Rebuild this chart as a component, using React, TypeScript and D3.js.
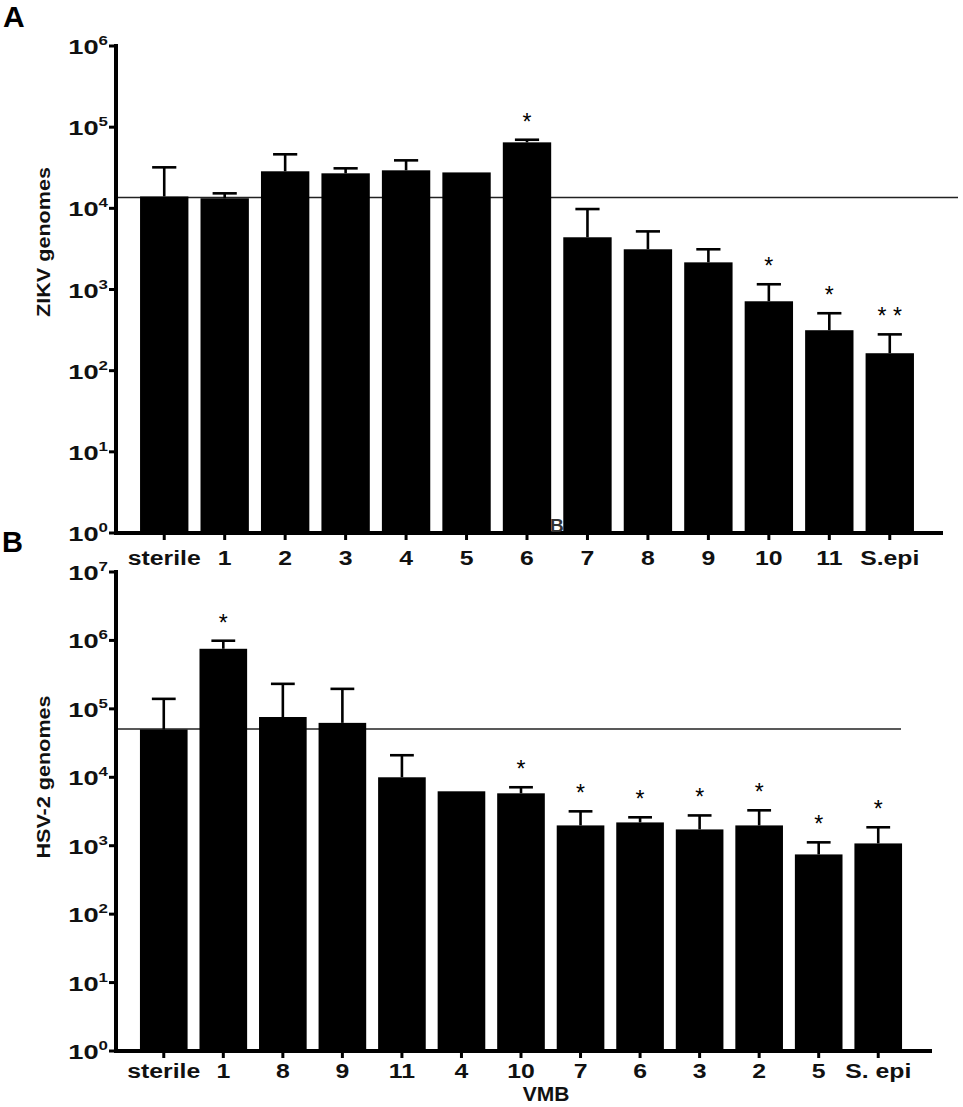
import * as d3 from "d3";

// Panel A: ZIKV
const zikvCategories = ["sterile", "1", "2", "3", "4", "5", "6", "7", "8", "9", "10", "11", "S.epi"];
const zikvMeans = [14000, 13300, 28600, 27000, 29400, 27700, 65000, 4400, 3130, 2160, 716, 315, 164];
const zikvErrTop = [32000, 15300, 46300, 31100, 39000, 27700, 70000, 9800, 5200, 3130, 1160, 510, 280];
const zikvStars = ["", "", "", "", "", "", "*", "", "", "", "*", "*", "* *"];
const zikvRef = 13600;
const zikvExponents = [0, 1, 2, 3, 4, 5, 6];

// Panel B: HSV-2
const hsvCategories = ["sterile", "1", "8", "9", "11", "4", "10", "7", "6", "3", "2", "5", "S. epi"];
const hsvMeans = [50000, 755000, 76000, 62400, 10000, 6240, 5830, 1980, 2190, 1730, 1980, 746, 1080];
const hsvErrTop = [140000, 990000, 232000, 196000, 21000, 6240, 7150, 3180, 2600, 2770, 3290, 1120, 1860];
const hsvStars = ["", "*", "", "", "", "", "*", "*", "*", "*", "*", "*", "*"];
const hsvRef = 50900;
const hsvExponents = [0, 1, 2, 3, 4, 5, 6, 7];

const FONT = "'Liberation Sans', Arial, sans-serif";

type PanelProps = {
  categories: string[];
  means: number[];
  errTop: number[];
  stars: string[];
  refValue: number;
  exponents: number[];
  yTop: number;
  yBottom: number;
  bandRange: [number, number];
  axisEnd: number;
  refEnd: number;
  title: string;
  titleY: number;
  titleStretch: number;
  labelGap: number;
};

function Panel(p: PanelProps) {
  const axisX = 116;
  const maxExp = d3.max(p.exponents)!;
  const y = d3.scaleLog().domain([1, Math.pow(10, maxExp)]).range([p.yBottom, p.yTop]);
  const x = d3.scaleBand().domain(p.categories).range(p.bandRange).paddingInner(0.2).paddingOuter(0.1);
  const bw = x.bandwidth();

  return (
    <g fontFamily={FONT}>
      {/* reference line */}
      <line x1={axisX} x2={p.refEnd} y1={y(p.refValue)} y2={y(p.refValue)} stroke="#222" strokeWidth={1.6} />

      {/* bars */}
      {p.categories.map((c, i) => (
        <rect key={c} x={x(c)!} y={y(p.means[i])} width={bw} height={p.yBottom - y(p.means[i])} fill="#000" />
      ))}

      {/* upper error bars */}
      {p.categories.map((c, i) => {
        const cx = x(c)! + bw / 2;
        if (p.errTop[i] <= p.means[i]) return null;
        return (
          <g key={"e" + c} stroke="#000" strokeWidth={2.6}>
            <line x1={cx} x2={cx} y1={y(p.means[i])} y2={y(p.errTop[i])} />
            <line x1={cx - bw / 4} x2={cx + bw / 4} y1={y(p.errTop[i])} y2={y(p.errTop[i])} />
          </g>
        );
      })}

      {/* significance stars */}
      {p.categories.map((c, i) =>
        p.stars[i] ? (
          <text key={"s" + c} x={x(c)! + bw / 2} y={y(p.errTop[i]) - 10} textAnchor="middle" fontSize={23} fill="#000">
            {p.stars[i]}
          </text>
        ) : null
      )}

      {/* y axis */}
      <line x1={axisX} x2={axisX} y1={p.yTop - 2} y2={p.yBottom + 2} stroke="#000" strokeWidth={4} />
      {p.exponents.map((e) => {
        const ty = y(Math.pow(10, e));
        return (
          <g key={"t" + e}>
            <line x1={axisX - 7} x2={axisX} y1={ty} y2={ty} stroke="#000" strokeWidth={3} />
            <g transform={`translate(${axisX - 8},${ty + 8}) scale(1.3,1)`}>
              <text textAnchor="end" fontSize={21} fontWeight="bold" fill="#111">
                10<tspan fontSize={13} dy={-9}>{e}</tspan>
              </text>
            </g>
          </g>
        );
      })}
      <g transform={`translate(50,${p.titleY}) rotate(-90) scale(${p.titleStretch},1)`}>
        <text textAnchor="middle" fontSize={18} fontWeight="bold" fill="#111">
          {p.title}
        </text>
      </g>

      {/* x axis */}
      <line x1={axisX - 2} x2={p.axisEnd} y1={p.yBottom} y2={p.yBottom} stroke="#000" strokeWidth={4} />
      {p.categories.map((c) => {
        const cx = x(c)! + bw / 2;
        return (
          <g key={"x" + c}>
            <line x1={cx} x2={cx} y1={p.yBottom} y2={p.yBottom + 7} stroke="#000" strokeWidth={3} />
            <g transform={`translate(${cx},${p.yBottom + p.labelGap}) scale(1.18,1)`}>
              <text textAnchor="middle" fontSize={21} fontWeight="bold" fill="#111">
                {c}
              </text>
            </g>
          </g>
        );
      })}
    </g>
  );
}

export default function App() {
  return (
    <svg width={963} height={1107} style={{ position: "absolute", left: 0, top: 0, background: "#fff" }}>
      <rect width={963} height={1107} fill="#fff" />
      <text x={3} y={27} fontFamily={FONT} fontSize={30} fontWeight="bold">A</text>
      <text x={2} y={552} fontFamily={FONT} fontSize={29} fontWeight="bold">B</text>
      <Panel
        categories={zikvCategories}
        means={zikvMeans}
        errTop={zikvErrTop}
        stars={zikvStars}
        refValue={zikvRef}
        exponents={zikvExponents}
        yTop={46}
        yBottom={533}
        bandRange={[134, 920]}
        axisEnd={943}
        refEnd={958}
        title="ZIKV genomes"
        titleY={242}
        titleStretch={1.2}
        labelGap={32}
      />
      {/* stray panel letter left over in the figure */}
      <text x={550} y={532} fontFamily={FONT} fontSize={19} fontWeight="bold" fill="#333">B</text>
      <Panel
        categories={hsvCategories}
        means={hsvMeans}
        errTop={hsvErrTop}
        stars={hsvStars}
        refValue={hsvRef}
        exponents={hsvExponents}
        yTop={572}
        yBottom={1051}
        bandRange={[134, 908]}
        axisEnd={932}
        refEnd={901}
        title="HSV-2 genomes"
        titleY={777}
        titleStretch={1.2}
        labelGap={27}
      />
      <text x={546} y={1101} textAnchor="middle" fontFamily={FONT} fontSize={21} fontWeight="bold" fill="#111">
        VMB
      </text>
    </svg>
  );
}
